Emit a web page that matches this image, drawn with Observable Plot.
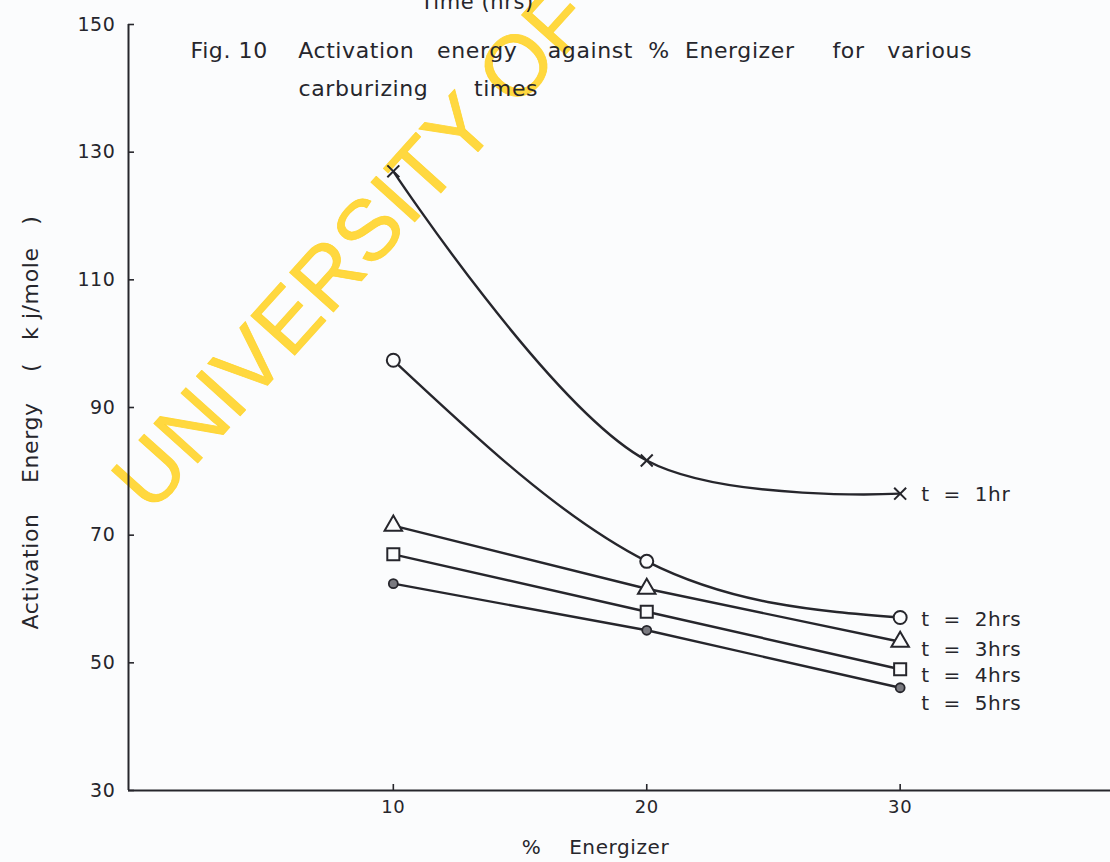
<!DOCTYPE html>
<html>
<head>
<meta charset="utf-8">
<script src="https://cdn.jsdelivr.net/npm/d3@7"></script>
<script src="https://cdn.jsdelivr.net/npm/@observablehq/plot@0.6"></script>
<style>
  html, body { margin: 0; padding: 0; background: #fbfcfd; }
  svg text { white-space: pre; }
</style>
</head>
<body>
<div id="chart"></div>
<script>
// ---- data ----
const energizer = [10, 20, 30];                 // % Energizer
const seriesNames = ["t = 1hr", "t = 2hrs", "t = 3hrs", "t = 4hrs", "t = 5hrs"];
const t1hr  = [127, 81.7, 76.5];
const t2hrs = [97.4, 65.9, 57.1];
const t3hrs = [71.5, 61.6, 53.3];
const t4hrs = [67.0, 58.0, 49.0];
const t5hrs = [62.4, 55.1, 46.1];
const seriesValues = [t1hr, t2hrs, t3hrs, t4hrs, t5hrs];
const xTicks = [10, 20, 30];
const yTicks = [30, 50, 70, 90, 110, 130, 150];

const titleLine1 = "Fig. 10    Activation   energy    against  %  Energizer     for   various";
const titleLine2 = "carburizing      times";
const topFragment = "Time (hrs)";
const yLabel = "Activation    Energy    (   k j/mole   )";
const xLabel = "%    Energizer";
const watermark = "UNIVERSITY OF IBADAN";

// ---- tidy table ----
const rows = [];
seriesValues.forEach((vals, i) =>
  vals.forEach((v, j) => rows.push({series: seriesNames[i], x: energizer[j], y: v}))
);

// ---- styles ----
const ink = "#26262c";
const xDomain = [-0.45, 38.3];
const curves = {"t = 1hr": "catmull-rom", "t = 2hrs": "natural", "t = 3hrs": "linear", "t = 4hrs": "linear", "t = 5hrs": "linear"};
const markerStyle = {
  "t = 1hr":  {symbol: "times",    r: 5.5, fill: "none",  strokeWidth: 2},
  "t = 2hrs": {symbol: "circle",   r: 6.5, fill: "#fbfcfd", strokeWidth: 2},
  "t = 3hrs": {symbol: "triangle", r: 6.5, fill: "#fbfcfd", strokeWidth: 2},
  "t = 4hrs": {symbol: "square",   r: 6.8, fill: "#fbfcfd", strokeWidth: 2},
  "t = 5hrs": {symbol: "circle",   r: 4.5, fill: "#7a7a80", strokeWidth: 1.8}
};
const labelDy = {"t = 1hr": 1, "t = 2hrs": 2, "t = 3hrs": 8, "t = 4hrs": 6, "t = 5hrs": 16};

const marks = [];

// watermark (behind everything)
marks.push(Plot.text([watermark], {
  text: d => d, frameAnchor: "top-left", dx: 2, dy: 472, rotate: -48,
  textAnchor: "start", lineAnchor: "middle",
  fontSize: 86, fontFamily: "Liberation Sans", fill: "#ffd42a", fillOpacity: 0.9,
  stroke: "#ffd42a", strokeWidth: 0.8, strokeOpacity: 0.9
}));

// axes
marks.push(Plot.ruleX([xDomain[0]], {stroke: ink, strokeWidth: 2}));
marks.push(Plot.ruleY([30], {stroke: ink, strokeWidth: 2}));
marks.push(Plot.axisY(yTicks, {tickSize: -6, tickPadding: 19, stroke: ink, strokeWidth: 1.6, fill: ink, fontSize: 19, label: null}));
marks.push(Plot.axisX(xTicks, {tickSize: -6, tickPadding: 16, stroke: ink, strokeWidth: 1.6, fill: ink, fontSize: 18, label: null}));

// lines + markers + labels
seriesNames.forEach(name => {
  const data = rows.filter(d => d.series === name);
  marks.push(Plot.line(data, {x: "x", y: "y", curve: curves[name], stroke: ink, strokeWidth: 2.4}));
  const m = markerStyle[name];
  marks.push(Plot.dot(data, {x: "x", y: "y", symbol: m.symbol, r: m.r, fill: m.fill, stroke: ink, strokeWidth: m.strokeWidth}));
  const last = data[data.length - 1];
  marks.push(Plot.text([last], {
    x: "x", y: "y", text: d => d.series.replace(/ /g, "  "),
    dx: 21, dy: labelDy[name], textAnchor: "start", lineAnchor: "middle",
    fontSize: 20, fill: ink
  }));
});

// titles and axis labels
marks.push(Plot.text([titleLine1], {text: d => d, frameAnchor: "top-left", dx: 62, dy: 26, textAnchor: "start", lineAnchor: "middle", fontSize: 22, fill: ink}));
marks.push(Plot.text([titleLine2], {text: d => d, frameAnchor: "top-left", dx: 170, dy: 64, textAnchor: "start", lineAnchor: "middle", fontSize: 22, fill: ink}));
marks.push(Plot.text([topFragment], {text: d => d, frameAnchor: "top-left", dx: 292, dy: -22, textAnchor: "start", lineAnchor: "middle", fontSize: 21, fill: ink}));
marks.push(Plot.text([yLabel], {text: d => d, frameAnchor: "left", dx: -98, dy: 15, rotate: -90, textAnchor: "middle", lineAnchor: "middle", fontSize: 22, fill: ink, letterSpacing: "1.2px"}));
marks.push(Plot.text([xLabel], {text: d => d, frameAnchor: "bottom", dx: -24, dy: 57, textAnchor: "middle", lineAnchor: "middle", fontSize: 20, fill: ink}));

const chart = Plot.plot({
  width: 1110,
  height: 862,
  marginLeft: 128,
  marginRight: 0,
  marginTop: 24,
  marginBottom: 72,
  x: {domain: xDomain, axis: null},
  y: {domain: [30, 150], axis: null},
  style: {fontFamily: "DejaVu Sans", background: "#fbfcfd", color: ink, overflow: "hidden"},
  marks
});
chart.style.letterSpacing = "0.6px";
document.getElementById("chart").appendChild(chart);
</script>
</body>
</html>
